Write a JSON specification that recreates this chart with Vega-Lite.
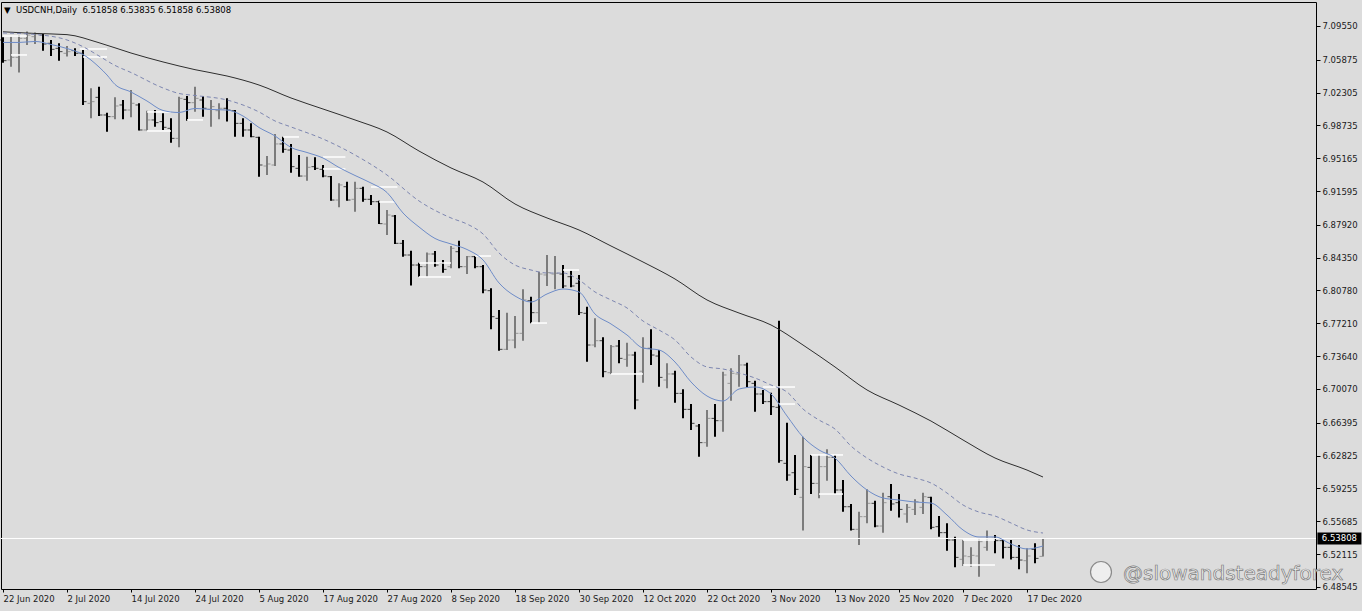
{
"$schema":"https://vega.github.io/schema/vega-lite/v6.json",
"width":1315,"height":587,"autosize":"none",
"padding":{"left":1,"top":2,"right":46,"bottom":22},
"background":"#dcdcdc",
"config":{"view":{"stroke":"#000000","strokeWidth":1,"fill":"#dcdcdc"},"font":"DejaVu Sans",
"axis":{"grid":false,"domain":false,"tickColor":"#000000","labelColor":"#1a1a1a","labelFont":"DejaVu Sans","labelFontSize":8.5,"labelOverlap":false,"labelFlush":false,"labelBound":false}},
"resolve":{"axis":{"x":"independent","y":"independent"}},
"datasets":{
"bars":[
{"i":0,"d":"2020-06-22","o":7.0803,"h":7.0832,"l":7.0556,"c":7.0578},
{"i":1,"d":"2020-06-23","o":7.0585,"h":7.0839,"l":7.0513,"c":7.0614},
{"i":2,"d":"2020-06-24","o":7.0614,"h":7.0857,"l":7.0448,"c":7.0821},
{"i":3,"d":"2020-06-25","o":7.0821,"h":7.0894,"l":7.0748,"c":7.0857},
{"i":4,"d":"2020-06-26","o":7.0839,"h":7.0883,"l":7.0759,"c":7.0868},
{"i":5,"d":"2020-06-29","o":7.0857,"h":7.0868,"l":7.0687,"c":7.0759},
{"i":6,"d":"2020-06-30","o":7.0767,"h":7.0803,"l":7.0629,"c":7.0701},
{"i":7,"d":"2020-07-01","o":7.0712,"h":7.0767,"l":7.0578,"c":7.0676},
{"i":8,"d":"2020-07-02","o":7.0658,"h":7.0738,"l":7.0622,"c":7.0676},
{"i":9,"d":"2020-07-03","o":7.0687,"h":7.0712,"l":7.0629,"c":7.0658},
{"i":10,"d":"2020-07-06","o":7.0658,"h":7.0694,"l":7.0096,"c":7.0132},
{"i":11,"d":"2020-07-07","o":7.0114,"h":7.0277,"l":6.9951,"c":7.0132},
{"i":12,"d":"2020-07-08","o":7.0179,"h":7.0295,"l":6.9976,"c":6.9987},
{"i":13,"d":"2020-07-09","o":6.9987,"h":7.0012,"l":6.9806,"c":6.9969},
{"i":14,"d":"2020-07-10","o":6.9969,"h":7.0179,"l":6.9940,"c":7.0085},
{"i":15,"d":"2020-07-13","o":7.0096,"h":7.0150,"l":6.9940,"c":7.0041},
{"i":16,"d":"2020-07-14","o":7.0041,"h":7.0259,"l":6.9962,"c":7.0114},
{"i":17,"d":"2020-07-15","o":7.0096,"h":7.0114,"l":6.9817,"c":6.9824},
{"i":18,"d":"2020-07-16","o":6.9824,"h":7.0034,"l":6.9817,"c":6.9933},
{"i":19,"d":"2020-07-17","o":6.9933,"h":7.0041,"l":6.9860,"c":6.9904},
{"i":20,"d":"2020-07-20","o":6.9915,"h":7.0005,"l":6.9824,"c":6.9853},
{"i":21,"d":"2020-07-21","o":6.9842,"h":6.9951,"l":6.9686,"c":6.9733},
{"i":22,"d":"2020-07-22","o":6.9733,"h":7.0186,"l":6.9635,"c":7.0168},
{"i":23,"d":"2020-07-23","o":7.0157,"h":7.0194,"l":6.9925,"c":7.0121},
{"i":24,"d":"2020-07-24","o":7.0121,"h":7.0295,"l":7.0023,"c":7.0168},
{"i":25,"d":"2020-07-27","o":7.0150,"h":7.0194,"l":6.9969,"c":7.0060},
{"i":26,"d":"2020-07-28","o":7.0049,"h":7.0150,"l":6.9860,"c":7.0078},
{"i":27,"d":"2020-07-29","o":7.0034,"h":7.0114,"l":6.9940,"c":7.0060},
{"i":28,"d":"2020-07-30","o":7.0060,"h":7.0168,"l":6.9915,"c":7.0041},
{"i":29,"d":"2020-07-31","o":7.0034,"h":7.0041,"l":6.9751,"c":6.9896},
{"i":30,"d":"2020-08-03","o":6.9896,"h":6.9951,"l":6.9751,"c":6.9824},
{"i":31,"d":"2020-08-04","o":6.9824,"h":6.9896,"l":6.9744,"c":6.9751},
{"i":32,"d":"2020-08-05","o":6.9744,"h":6.9751,"l":6.9316,"c":6.9443},
{"i":33,"d":"2020-08-06","o":6.9432,"h":6.9541,"l":6.9334,"c":6.9454},
{"i":34,"d":"2020-08-07","o":6.9443,"h":6.9780,"l":6.9432,"c":6.9672},
{"i":35,"d":"2020-08-10","o":6.9672,"h":6.9751,"l":6.9577,"c":6.9614},
{"i":36,"d":"2020-08-11","o":6.9606,"h":6.9672,"l":6.9360,"c":6.9425},
{"i":37,"d":"2020-08-12","o":6.9407,"h":6.9552,"l":6.9316,"c":6.9323},
{"i":38,"d":"2020-08-13","o":6.9323,"h":6.9534,"l":6.9273,"c":6.9418},
{"i":39,"d":"2020-08-14","o":6.9425,"h":6.9526,"l":6.9389,"c":6.9407},
{"i":40,"d":"2020-08-17","o":6.9396,"h":6.9443,"l":6.9309,"c":6.9323},
{"i":41,"d":"2020-08-18","o":6.9316,"h":6.9323,"l":6.9055,"c":6.9062},
{"i":42,"d":"2020-08-19","o":6.9062,"h":6.9244,"l":6.8983,"c":6.9226},
{"i":43,"d":"2020-08-20","o":6.9207,"h":6.9262,"l":6.9055,"c":6.9062},
{"i":44,"d":"2020-08-21","o":6.9070,"h":6.9262,"l":6.8935,"c":6.9189},
{"i":45,"d":"2020-08-24","o":6.9189,"h":6.9207,"l":6.9044,"c":6.9070},
{"i":46,"d":"2020-08-25","o":6.9070,"h":6.9117,"l":6.9008,"c":6.9044},
{"i":47,"d":"2020-08-26","o":6.9044,"h":6.9055,"l":6.8801,"c":6.8805},
{"i":48,"d":"2020-08-27","o":6.8801,"h":6.8954,"l":6.8682,"c":6.8899},
{"i":49,"d":"2020-08-28","o":6.8888,"h":6.8899,"l":6.8584,"c":6.8591},
{"i":50,"d":"2020-08-31","o":6.8591,"h":6.8627,"l":6.8446,"c":6.8464},
{"i":51,"d":"2020-09-01","o":6.8464,"h":6.8511,"l":6.8131,"c":6.8355},
{"i":52,"d":"2020-09-02","o":6.8355,"h":6.8381,"l":6.8228,"c":6.8337},
{"i":53,"d":"2020-09-03","o":6.8337,"h":6.8490,"l":6.8228,"c":6.8475},
{"i":54,"d":"2020-09-04","o":6.8475,"h":6.8507,"l":6.8337,"c":6.8355},
{"i":55,"d":"2020-09-07","o":6.8373,"h":6.8410,"l":6.8272,"c":6.8308},
{"i":56,"d":"2020-09-08","o":6.8337,"h":6.8562,"l":6.8319,"c":6.8537},
{"i":57,"d":"2020-09-09","o":6.8500,"h":6.8620,"l":6.8319,"c":6.8337},
{"i":58,"d":"2020-09-10","o":6.8337,"h":6.8453,"l":6.8257,"c":6.8446},
{"i":59,"d":"2020-09-11","o":6.8446,"h":6.8453,"l":6.8319,"c":6.8337},
{"i":60,"d":"2020-09-14","o":6.8337,"h":6.8355,"l":6.8047,"c":6.8083},
{"i":61,"d":"2020-09-15","o":6.8076,"h":6.8102,"l":6.7656,"c":6.7793},
{"i":62,"d":"2020-09-16","o":6.7775,"h":6.7866,"l":6.7423,"c":6.7438},
{"i":63,"d":"2020-09-17","o":6.7438,"h":6.7837,"l":6.7430,"c":6.7539},
{"i":64,"d":"2020-09-18","o":6.7539,"h":6.7800,"l":6.7449,"c":6.7612},
{"i":65,"d":"2020-09-21","o":6.7612,"h":6.8091,"l":6.7532,"c":6.7975},
{"i":66,"d":"2020-09-22","o":6.7967,"h":6.8011,"l":6.7721,"c":6.7837},
{"i":67,"d":"2020-09-23","o":6.7837,"h":6.8283,"l":6.7728,"c":6.8257},
{"i":68,"d":"2020-09-24","o":6.8247,"h":6.8464,"l":6.8127,"c":6.8272},
{"i":69,"d":"2020-09-25","o":6.8257,"h":6.8453,"l":6.8091,"c":6.8265},
{"i":70,"d":"2020-09-28","o":6.8257,"h":6.8355,"l":6.8102,"c":6.8127},
{"i":71,"d":"2020-09-29","o":6.8228,"h":6.8294,"l":6.8112,"c":6.8127},
{"i":72,"d":"2020-09-30","o":6.8156,"h":6.8247,"l":6.7811,"c":6.7837},
{"i":73,"d":"2020-10-01","o":6.7830,"h":6.7902,"l":6.7304,"c":6.7485},
{"i":74,"d":"2020-10-02","o":6.7485,"h":6.7775,"l":6.7460,"c":6.7532},
{"i":75,"d":"2020-10-05","o":6.7532,"h":6.7569,"l":6.7133,"c":6.7195},
{"i":76,"d":"2020-10-06","o":6.7184,"h":6.7485,"l":6.7170,"c":6.7467},
{"i":77,"d":"2020-10-07","o":6.7474,"h":6.7540,"l":6.7286,"c":6.7340},
{"i":78,"d":"2020-10-08","o":6.7329,"h":6.7510,"l":6.7249,"c":6.7376},
{"i":79,"d":"2020-10-09","o":6.7376,"h":6.7413,"l":6.6785,"c":6.6887},
{"i":80,"d":"2020-10-12","o":6.7200,"h":6.7569,"l":6.7075,"c":6.7449},
{"i":81,"d":"2020-10-13","o":6.7449,"h":6.7656,"l":6.7268,"c":6.7376},
{"i":82,"d":"2020-10-14","o":6.7365,"h":6.7431,"l":6.7032,"c":6.7133},
{"i":83,"d":"2020-10-15","o":6.7104,"h":6.7286,"l":6.7014,"c":6.7170},
{"i":84,"d":"2020-10-16","o":6.7170,"h":6.7206,"l":6.6858,"c":6.6959},
{"i":85,"d":"2020-10-19","o":6.6959,"h":6.7003,"l":6.6687,"c":6.6785},
{"i":86,"d":"2020-10-20","o":6.6785,"h":6.6843,"l":6.6561,"c":6.6633},
{"i":87,"d":"2020-10-21","o":6.6604,"h":6.6626,"l":6.6270,"c":6.6423},
{"i":88,"d":"2020-10-22","o":6.6423,"h":6.6778,"l":6.6379,"c":6.6687},
{"i":89,"d":"2020-10-23","o":6.6687,"h":6.6843,"l":6.6488,"c":6.6662},
{"i":90,"d":"2020-10-26","o":6.6662,"h":6.7195,"l":6.6542,"c":6.7159},
{"i":91,"d":"2020-10-27","o":6.7068,"h":6.7231,"l":6.6880,"c":6.7177},
{"i":92,"d":"2020-10-28","o":6.7170,"h":6.7376,"l":6.7032,"c":6.7268},
{"i":93,"d":"2020-10-29","o":6.7268,"h":6.7293,"l":6.7025,"c":6.7086},
{"i":94,"d":"2020-10-30","o":6.7068,"h":6.7097,"l":6.6760,"c":6.6952},
{"i":95,"d":"2020-11-02","o":6.6952,"h":6.6996,"l":6.6843,"c":6.6869},
{"i":96,"d":"2020-11-03","o":6.6869,"h":6.6967,"l":6.6724,"c":6.6814},
{"i":97,"d":"2020-11-04","o":6.6807,"h":6.7750,"l":6.6205,"c":6.6227},
{"i":98,"d":"2020-11-05","o":6.6198,"h":6.6640,"l":6.6009,"c":6.6071},
{"i":99,"d":"2020-11-06","o":6.6096,"h":6.6289,"l":6.5853,"c":6.5915},
{"i":100,"d":"2020-11-09","o":6.5828,"h":6.6488,"l":6.5466,"c":6.6162},
{"i":101,"d":"2020-11-10","o":6.6154,"h":6.6289,"l":6.5864,"c":6.5980},
{"i":102,"d":"2020-11-11","o":6.5980,"h":6.6289,"l":6.5817,"c":6.6162},
{"i":103,"d":"2020-11-12","o":6.6162,"h":6.6350,"l":6.6009,"c":6.6263},
{"i":104,"d":"2020-11-13","o":6.6263,"h":6.6289,"l":6.5864,"c":6.5908},
{"i":105,"d":"2020-11-16","o":6.5908,"h":6.6017,"l":6.5672,"c":6.5726},
{"i":106,"d":"2020-11-17","o":6.5726,"h":6.5756,"l":6.5466,"c":6.5480},
{"i":107,"d":"2020-11-18","o":6.5480,"h":6.5672,"l":6.5310,"c":6.5618},
{"i":108,"d":"2020-11-19","o":6.5618,"h":6.5915,"l":6.5545,"c":6.5763},
{"i":109,"d":"2020-11-20","o":6.5763,"h":6.5792,"l":6.5502,"c":6.5516},
{"i":110,"d":"2020-11-23","o":6.5516,"h":6.5879,"l":6.5444,"c":6.5770},
{"i":111,"d":"2020-11-24","o":6.5835,"h":6.5973,"l":6.5683,"c":6.5756},
{"i":112,"d":"2020-11-25","o":6.5770,"h":6.5864,"l":6.5610,"c":6.5697},
{"i":113,"d":"2020-11-26","o":6.5647,"h":6.5756,"l":6.5552,"c":6.5719},
{"i":114,"d":"2020-11-27","o":6.5697,"h":6.5806,"l":6.5636,"c":6.5781},
{"i":115,"d":"2020-11-30","o":6.5719,"h":6.5879,"l":6.5647,"c":6.5835},
{"i":116,"d":"2020-12-01","o":6.5828,"h":6.5835,"l":6.5480,"c":6.5502},
{"i":117,"d":"2020-12-02","o":6.5509,"h":6.5625,"l":6.5400,"c":6.5444},
{"i":118,"d":"2020-12-03","o":6.5444,"h":6.5545,"l":6.5248,"c":6.5364},
{"i":119,"d":"2020-12-04","o":6.5364,"h":6.5400,"l":6.5067,"c":6.5175},
{"i":120,"d":"2020-12-07","o":6.5154,"h":6.5364,"l":6.5081,"c":6.5190},
{"i":121,"d":"2020-12-08","o":6.5183,"h":6.5284,"l":6.5074,"c":6.5197},
{"i":122,"d":"2020-12-09","o":6.5190,"h":6.5382,"l":6.4965,"c":6.5346},
{"i":123,"d":"2020-12-10","o":6.5284,"h":6.5466,"l":6.5248,"c":6.5382},
{"i":124,"d":"2020-12-11","o":6.5382,"h":6.5418,"l":6.5219,"c":6.5357},
{"i":125,"d":"2020-12-14","o":6.5357,"h":6.5364,"l":6.5164,"c":6.5284},
{"i":126,"d":"2020-12-15","o":6.5284,"h":6.5364,"l":6.5153,"c":6.5175},
{"i":127,"d":"2020-12-16","o":6.5175,"h":6.5310,"l":6.5045,"c":6.5146},
{"i":128,"d":"2020-12-17","o":6.5139,"h":6.5273,"l":6.5001,"c":6.5190},
{"i":129,"d":"2020-12-18","o":6.5262,"h":6.5328,"l":6.5110,"c":6.5164},
{"i":130,"d":"2020-12-21","o":6.51858,"h":6.53835,"l":6.51858,"c":6.53808}
],
"sma":[{"i":0,"v":7.0892},{"i":4,"v":7.0874},{"i":8,"v":7.0861},{"i":12,"v":7.0773},{"i":16,"v":7.0661},{"i":20,"v":7.0564},{"i":24,"v":7.0480},{"i":28,"v":7.0411},{"i":32,"v":7.0313},{"i":36,"v":7.0172},{"i":40,"v":7.0052},{"i":44,"v":6.9933},{"i":48,"v":6.9802},{"i":52,"v":6.9595},{"i":56,"v":6.9411},{"i":60,"v":6.9258},{"i":64,"v":6.9019},{"i":68,"v":6.8867},{"i":72,"v":6.8736},{"i":76,"v":6.8562},{"i":80,"v":6.8388},{"i":84,"v":6.8203},{"i":88,"v":6.7975},{"i":92,"v":6.7833},{"i":96,"v":6.7703},{"i":100,"v":6.7485},{"i":104,"v":6.7246},{"i":108,"v":6.6996},{"i":112,"v":6.6832},{"i":116,"v":6.6658},{"i":120,"v":6.6452},{"i":124,"v":6.6256},{"i":128,"v":6.6125},{"i":130,"v":6.6049}],
"upper":[{"i":0,"v":7.0879},{"i":4,"v":7.0863},{"i":8,"v":7.0803},{"i":10,"v":7.0730},{"i":12,"v":7.0629},{"i":14,"v":7.0526},{"i":16,"v":7.0449},{"i":20,"v":7.0281},{"i":22,"v":7.0221},{"i":24,"v":7.0199},{"i":28,"v":7.0150},{"i":32,"v":7.0020},{"i":34,"v":6.9922},{"i":36,"v":6.9857},{"i":40,"v":6.9726},{"i":44,"v":6.9552},{"i":48,"v":6.9334},{"i":52,"v":6.9052},{"i":56,"v":6.8867},{"i":58,"v":6.8801},{"i":60,"v":6.8693},{"i":62,"v":6.8486},{"i":64,"v":6.8355},{"i":66,"v":6.8301},{"i":68,"v":6.8268},{"i":70,"v":6.8268},{"i":72,"v":6.8192},{"i":74,"v":6.8062},{"i":76,"v":6.7975},{"i":78,"v":6.7888},{"i":80,"v":6.7746},{"i":82,"v":6.7648},{"i":84,"v":6.7540},{"i":86,"v":6.7355},{"i":88,"v":6.7246},{"i":90,"v":6.7224},{"i":92,"v":6.7181},{"i":94,"v":6.7126},{"i":96,"v":6.7050},{"i":98,"v":6.6974},{"i":100,"v":6.6789},{"i":102,"v":6.6669},{"i":104,"v":6.6571},{"i":106,"v":6.6386},{"i":108,"v":6.6256},{"i":110,"v":6.6158},{"i":112,"v":6.6082},{"i":114,"v":6.6038},{"i":116,"v":6.5984},{"i":118,"v":6.5875},{"i":120,"v":6.5745},{"i":122,"v":6.5668},{"i":124,"v":6.5625},{"i":126,"v":6.5549},{"i":128,"v":6.5473},{"i":130,"v":6.5440}],
"ema":[{"i":0,"v":7.0776},{"i":2,"v":7.0776},{"i":4,"v":7.0787},{"i":6,"v":7.0754},{"i":8,"v":7.0710},{"i":10,"v":7.0645},{"i":12,"v":7.0509},{"i":13,"v":7.0422},{"i":14,"v":7.0319},{"i":16,"v":7.0237},{"i":18,"v":7.0139},{"i":20,"v":7.0036},{"i":22,"v":7.0014},{"i":24,"v":7.0058},{"i":26,"v":7.0047},{"i":28,"v":7.0041},{"i":30,"v":6.9976},{"i":32,"v":6.9851},{"i":34,"v":6.9759},{"i":36,"v":6.9634},{"i":38,"v":6.9579},{"i":40,"v":6.9519},{"i":42,"v":6.9416},{"i":44,"v":6.9329},{"i":46,"v":6.9247},{"i":48,"v":6.9144},{"i":50,"v":6.8921},{"i":52,"v":6.8769},{"i":54,"v":6.8644},{"i":56,"v":6.8584},{"i":58,"v":6.8524},{"i":60,"v":6.8410},{"i":62,"v":6.8160},{"i":64,"v":6.8018},{"i":66,"v":6.7953},{"i":68,"v":6.8040},{"i":70,"v":6.8094},{"i":72,"v":6.8062},{"i":74,"v":6.7822},{"i":76,"v":6.7714},{"i":78,"v":6.7594},{"i":80,"v":6.7452},{"i":82,"v":6.7431},{"i":84,"v":6.7300},{"i":86,"v":6.7083},{"i":88,"v":6.6930},{"i":90,"v":6.6876},{"i":92,"v":6.7006},{"i":94,"v":6.7028},{"i":96,"v":6.6952},{"i":98,"v":6.6713},{"i":100,"v":6.6484},{"i":102,"v":6.6343},{"i":104,"v":6.6256},{"i":106,"v":6.6060},{"i":108,"v":6.5908},{"i":110,"v":6.5821},{"i":112,"v":6.5799},{"i":114,"v":6.5777},{"i":116,"v":6.5766},{"i":118,"v":6.5636},{"i":120,"v":6.5473},{"i":122,"v":6.5397},{"i":124,"v":6.5397},{"i":126,"v":6.5320},{"i":128,"v":6.5266},{"i":130,"v":6.5299}],
"levels":[{"a":0,"b":3,"p":7.0846},{"a":1,"b":3,"p":7.0640},{"a":9.6,"b":13,"p":7.0705},{"a":10,"b":13,"p":7.0618},{"a":18,"b":21,"p":7.0020},{"a":18,"b":21,"p":6.9813},{"a":23,"b":25,"p":6.9933},{"a":35,"b":37,"p":6.9748},{"a":40,"b":42.8,"p":6.9530},{"a":40,"b":42.8,"p":6.9400},{"a":46,"b":49.3,"p":6.9204},{"a":47,"b":49,"p":6.9041},{"a":52,"b":56,"p":6.8377},{"a":52,"b":56,"p":6.8225},{"a":59,"b":61,"p":6.8453},{"a":66,"b":68,"p":6.7724},{"a":70,"b":72,"p":6.8301},{"a":76,"b":80,"p":6.7170},{"a":95,"b":99,"p":6.7028},{"a":97,"b":99,"p":6.6843},{"a":101,"b":105,"p":6.6289},{"a":102,"b":105,"p":6.5864},{"a":120,"b":124,"p":6.5364},{"a":120,"b":124,"p":6.5092}],
"one":[{"price":6.53808,"label":"6.53808","header":"▼\u00a0\u00a0USDCNH,Daily\u00a0\u00a06.51858\u00a06.53835\u00a06.51858\u00a06.53808","mark":"@slowandsteadyforex"}]
},
"layer":[
{"data":{"name":"bars"},
 "mark":{"type":"rule","strokeWidth":2},
 "encoding":{
  "x":{"field":"i","type":"quantitative","title":null,"scale":{"domain":[-0.25,164.125],"nice":false,"zero":false},
   "axis":{"orient":"bottom","title":null,"values":[0,8,16,24,32,40,48,56,64,72,80,88,96,104,112,120,128],"tickSize":3,"labelAlign":"left","labelPadding":2,"labelOverlap":false,
   "labelExpr":"['22 Jun 2020','2 Jul 2020','14 Jul 2020','24 Jul 2020','5 Aug 2020','17 Aug 2020','27 Aug 2020','8 Sep 2020','18 Sep 2020','30 Sep 2020','12 Oct 2020','22 Oct 2020','3 Nov 2020','13 Nov 2020','25 Nov 2020','7 Dec 2020','17 Dec 2020'][round(datum.value/8)]"}},
  "y":{"field":"l","type":"quantitative","title":null,"scale":{"domain":[6.4831,7.1216],"nice":false,"zero":false},
   "axis":{"orient":"right","title":null,"values":[7.0955,7.05875,7.02305,6.98735,6.95165,6.91595,6.8792,6.8435,6.8078,6.7721,6.7364,6.7007,6.66395,6.62825,6.59255,6.55685,6.52115,6.48545],"format":".5f","tickSize":4,"labelPadding":2,"labelOverlap":false,"labelBound":false}},
  "y2":{"field":"h"},
  "color":{"condition":{"test":"datum.c > datum.o","value":"#7c7c7c"},"value":"#000000"}}},
{"data":{"name":"bars"},
 "mark":{"type":"tick","orient":"horizontal","size":3,"thickness":1,"xOffset":-2},
 "encoding":{"x":{"field":"i","type":"quantitative","axis":null},"y":{"field":"o","type":"quantitative","axis":null},
  "color":{"condition":{"test":"datum.c > datum.o","value":"#7c7c7c"},"value":"#000000"}}},
{"data":{"name":"bars"},
 "mark":{"type":"tick","orient":"horizontal","size":3,"thickness":1,"xOffset":2},
 "encoding":{"x":{"field":"i","type":"quantitative","axis":null},"y":{"field":"c","type":"quantitative","axis":null},
  "color":{"condition":{"test":"datum.c > datum.o","value":"#7c7c7c"},"value":"#000000"}}},
{"data":{"name":"one"},
 "mark":{"type":"rule","color":"#ffffff","strokeWidth":1},
 "encoding":{"y":{"field":"price","type":"quantitative","axis":null}}},
{"data":{"name":"levels"},
 "mark":{"type":"rule","color":"#ffffff","strokeWidth":1.5},
 "encoding":{"x":{"field":"a","type":"quantitative","axis":null},"x2":{"field":"b"},"y":{"field":"p","type":"quantitative","axis":null}}},
{"data":{"name":"sma"},
 "mark":{"type":"line","color":"#2e2e2e","strokeWidth":1,"interpolate":"monotone"},
 "encoding":{"x":{"field":"i","type":"quantitative","axis":null},"y":{"field":"v","type":"quantitative","axis":null}}},
{"data":{"name":"upper"},
 "mark":{"type":"line","color":"#7d86b0","strokeWidth":1,"strokeDash":[4,3],"interpolate":"monotone"},
 "encoding":{"x":{"field":"i","type":"quantitative","axis":null},"y":{"field":"v","type":"quantitative","axis":null}}},
{"data":{"name":"ema"},
 "mark":{"type":"line","color":"#6e8cc8","strokeWidth":1,"interpolate":"monotone"},
 "encoding":{"x":{"field":"i","type":"quantitative","axis":null},"y":{"field":"v","type":"quantitative","axis":null}}},
{"data":{"name":"one"},
 "mark":{"type":"text","align":"left","baseline":"middle","fontSize":8.5,"color":"#000000","font":"DejaVu Sans"},
 "encoding":{"x":{"datum":0.125,"type":"quantitative","axis":null},"y":{"datum":7.1129,"type":"quantitative","axis":null},"text":{"field":"header"}}},
{"data":{"name":"one"},
 "mark":{"type":"rect","color":"#000000"},
 "encoding":{"x":{"datum":164.3,"type":"quantitative","axis":null},"x2":{"datum":169.8},"y":{"datum":6.5446,"type":"quantitative","axis":null},"y2":{"datum":6.5316}}},
{"data":{"name":"one"},
 "mark":{"type":"text","align":"left","baseline":"middle","fontSize":8.5,"color":"#ffffff","font":"DejaVu Sans"},
 "encoding":{"x":{"datum":164.85,"type":"quantitative","axis":null},"y":{"field":"price","type":"quantitative","axis":null},"text":{"field":"label"}}},
{"data":{"name":"one"},
 "mark":{"type":"point","shape":"circle","size":440,"filled":true,"fill":"#eeeeee","stroke":"#8a8a8a","strokeWidth":1.2,"opacity":1},
 "encoding":{"x":{"datum":137.25,"type":"quantitative","axis":null},"y":{"datum":6.5016,"type":"quantitative","axis":null}}},
{"data":{"name":"one"},
 "mark":{"type":"text","align":"left","baseline":"alphabetic","fontSize":20,"fill":"#f4f4f4","stroke":"#7a7a7a","strokeWidth":0.7,"font":"DejaVu Sans"},
 "encoding":{"x":{"datum":140.0,"type":"quantitative","axis":null},"y":{"datum":6.4929,"type":"quantitative","axis":null},"text":{"field":"mark"}}}
]
}
